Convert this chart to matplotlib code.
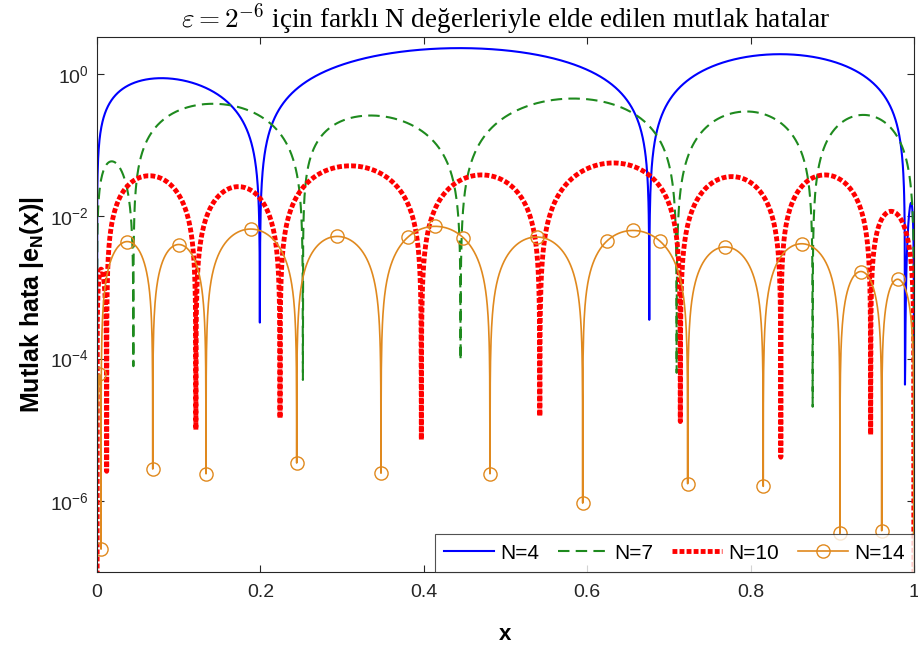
import numpy as np
import matplotlib
matplotlib.use("Agg")
import matplotlib.pyplot as plt
from matplotlib.ticker import FixedLocator, NullLocator

plt.rcParams['font.family'] = ['Liberation Sans', 'DejaVu Sans']
plt.rcParams['mathtext.fontset'] = 'custom'
plt.rcParams['mathtext.rm'] = 'Liberation Sans'
plt.rcParams['mathtext.bf'] = 'Liberation Sans:bold'
plt.rcParams['mathtext.it'] = 'Liberation Sans:italic'

# ---- absolute error data: zeros of e_N, sampled minimum at each zero,
# ---- and location / height of the maximum on each lobe
n4_zeros = [0.0, 0.1993, 0.676, 0.989, 1.0]
n4_dips = [1.3e-4, 3.2e-4, 3.5e-4, 4.3e-5, 1.0e-4]
n4_peak_x = [0.079, 0.444, 0.836, 0.9965]
n4_peak_val = [0.87, 2.3, 1.89, 0.0154]

n7_zeros = [0.0, 0.0445, 0.252, 0.445, 0.7095, 0.876, 1.0]
n7_dips = [1.0e-4, 7.8e-5, 5.0e-5, 9.5e-5, 6.3e-5, 2.1e-5, 1e-9]
n7_peak_x = [0.018, 0.142, 0.335, 0.583, 0.795, 0.938]
n7_peak_val = [0.059, 0.38, 0.26, 0.45, 0.296, 0.265]

n10_zeros = [0.0, 0.0118, 0.121, 0.224, 0.397, 0.542, 0.714, 0.837, 0.947, 1.0]
n10_dips = [1e-9, 2.6e-6, 1.0e-5, 1.45e-5, 7.2e-6, 1.55e-5, 1.3e-5, 4.1e-6, 8.5e-6, 1e-9]
n10_peak_x = [0.005, 0.064, 0.173, 0.31, 0.471, 0.632, 0.777, 0.891, 0.972]
n10_peak_val = [1.8e-3, 0.037, 0.026, 0.051, 0.038, 0.056, 0.036, 0.038, 0.0117]

n14_zeros = [0.0, 0.0049, 0.0682, 0.1334, 0.2444, 0.3476, 0.481, 0.5945,
             0.723, 0.8155, 0.9094, 0.9605, 1.0]
n14_dips = [1e-9, 2.1e-7, 2.8e-6, 2.4e-6, 3.4e-6, 2.45e-6, 2.4e-6, 9.3e-7,
            1.74e-6, 1.6e-6, 3.5e-7, 3.8e-7, 1e-9]
n14_peak_x = [0.0028, 0.037, 0.100, 0.188, 0.294, 0.414, 0.538, 0.656,
              0.769, 0.8625, 0.935, 0.980]
n14_peak_val = [6.0e-5, 4.4e-3, 4.0e-3, 6.6e-3, 5.2e-3, 7.2e-3, 5.1e-3,
                6.3e-3, 3.7e-3, 4.1e-3, 1.67e-3, 1.3e-3]
n14_marker_x = [0.0028, 0.0049, 0.0371, 0.0682, 0.1004, 0.1334, 0.1885,
                0.2444, 0.2941, 0.3476, 0.3810, 0.4137, 0.4484, 0.4810,
                0.5382, 0.5945, 0.6246, 0.6564, 0.6891, 0.7230, 0.7687,
                0.8155, 0.8625, 0.9094, 0.9351, 0.9605, 0.9808]

labels = ['N=4', 'N=7', 'N=10', 'N=14']
title_text = r'$\varepsilon=2^{-6}$ için farklı N değerleriyle elde edilen mutlak hatalar'


def lobe_values(x, zeros, dips, peak_x, peak_val):
    """Evaluate |e_N| on x from the lobe description."""
    zeros = np.asarray(zeros)
    dips = np.asarray(dips)
    px = np.asarray(peak_x)
    pv = np.asarray(peak_val)
    x = np.asarray(x, dtype=float)
    i = np.clip(np.searchsorted(zeros, x, side='right') - 1, 0, len(zeros) - 2)
    a, b = zeros[i], zeros[i + 1]
    t = np.clip((x - a) / (b - a), 0.0, 1.0)
    tp = (px[i] - a) / (b - a)
    k = np.log(0.5) / np.log(tp)
    v = pv[i] * np.sin(np.pi * t ** k)
    floor = np.where(t < 0.5, dips[i], dips[i + 1])
    v = np.maximum(v, floor)
    for z, d in zip(zeros, dips):
        v[np.isclose(x, z, atol=1e-9)] = d
    return v


def sample_grid(zeros, extra=()):
    g = np.concatenate([np.linspace(0.0, 1.0, 3001), zeros, extra])
    return np.unique(np.round(g, 9))


fig = plt.figure(figsize=(9.18, 6.52), dpi=100)
ax = fig.add_axes([0.1057, 0.1227, 0.8899, 0.8206])

x4 = sample_grid(n4_zeros)
ax.plot(x4, lobe_values(x4, n4_zeros, n4_dips, n4_peak_x, n4_peak_val),
        color='#0000FF', lw=1.5, label=labels[0])

x7 = sample_grid(n7_zeros)
ax.plot(x7, lobe_values(x7, n7_zeros, n7_dips, n7_peak_x, n7_peak_val),
        color='#1E8A1E', lw=1.5, dashes=(5.5, 3.0), label=labels[1])

x10 = sample_grid(n10_zeros)
ax.plot(x10, lobe_values(x10, n10_zeros, n10_dips, n10_peak_x, n10_peak_val),
        color='#FF0000', lw=3.5, dashes=(1.0, 0.45), dash_capstyle='butt',
        label=labels[2])

x14 = sample_grid(n14_zeros, n14_marker_x)
marker_idx = [int(np.argmin(np.abs(x14 - m))) for m in n14_marker_x]
ax.plot(x14, lobe_values(x14, n14_zeros, n14_dips, n14_peak_x, n14_peak_val),
        color='#E0891E', lw=1.2, marker='o', markersize=9.5,
        markerfacecolor='none', markeredgewidth=1.0, markevery=marker_idx,
        label=labels[3])

ax.set_yscale('log')
ax.set_xlim(0, 1)
ax.set_ylim(1e-7, 3.3)
ax.set_xticks([0, 0.2, 0.4, 0.6, 0.8, 1.0])
ax.set_xticklabels(['0', '0.2', '0.4', '0.6', '0.8', '1'])
ax.yaxis.set_major_locator(FixedLocator([1e-6, 1e-4, 1e-2, 1e0]))
ax.yaxis.set_minor_locator(NullLocator())

dark = '#262626'
for s in ax.spines.values():
    s.set_color(dark)
    s.set_linewidth(0.8)
ax.tick_params(which='both', direction='in', top=True, right=True,
               length=5, width=0.8, colors=dark, labelsize=14)
ax.tick_params(axis='x', pad=9)
ax.tick_params(axis='y', pad=6)

ax.set_xlabel('x', fontsize=16, fontweight='bold', color='black', labelpad=16)
ax.set_ylabel(r'Mutlak hata |e$_\mathbf{N}$(x)|', fontsize=18,
              fontweight='bold', color='black', labelpad=3)
ax.set_title(title_text, fontsize=19.5, family=['Liberation Serif', 'DejaVu Serif'],
             math_fontfamily='cm', pad=6, color='black')

leg = ax.legend(loc='lower right', ncol=4, fontsize=15, frameon=True,
                fancybox=False, borderaxespad=0.0, handlelength=2.4,
                handletextpad=0.3, columnspacing=0.9, borderpad=0.45)
leg.get_frame().set_edgecolor(dark)
leg.get_frame().set_linewidth(0.8)

fig.savefig('out.png', dpi=100)
